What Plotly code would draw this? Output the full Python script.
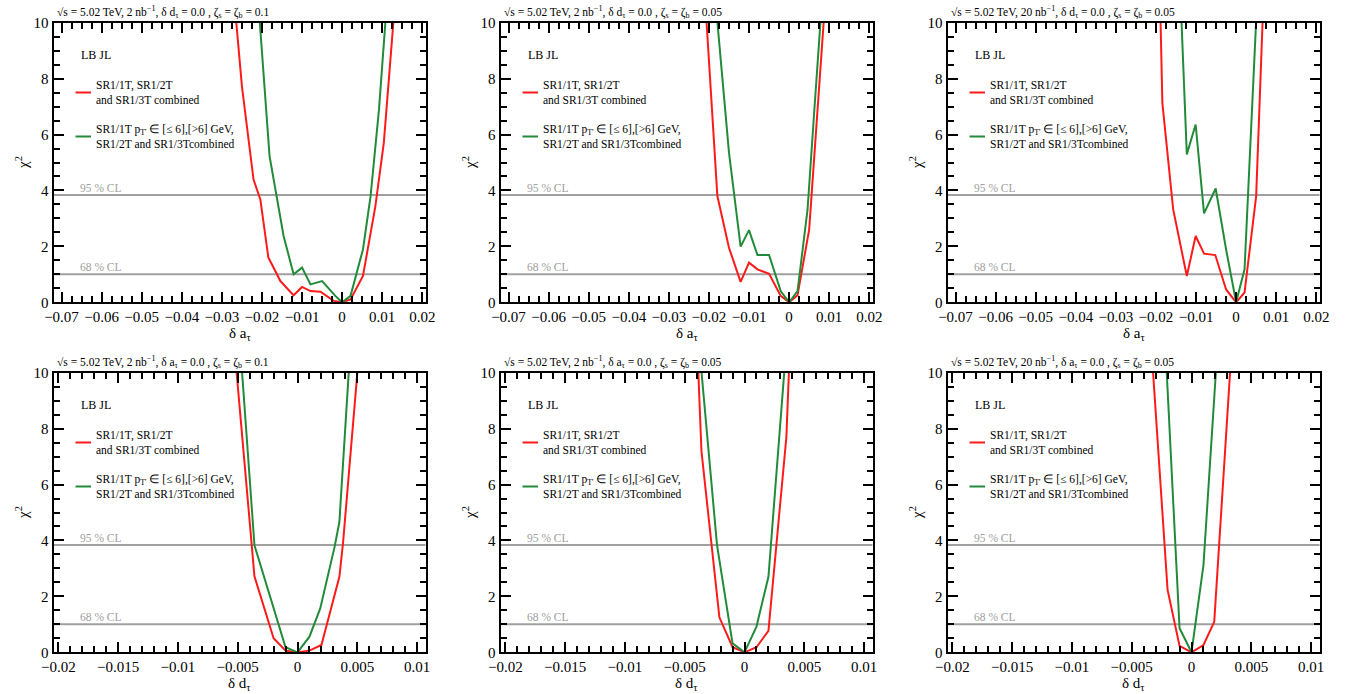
import plotly.graph_objects as go

W, H = 1348, 694

# ---------------- data ----------------
# Top row: chi^2 vs delta a_tau
A1_RED_X = [-0.0275, -0.025, -0.0221, -0.0204, -0.0184, -0.0154, -0.0121, -0.0100, -0.0079, -0.0054, -0.0021, 0.0, 0.0021, 0.0052, 0.0083, 0.0104, 0.0130]
A1_RED_Y = [11.8, 7.73, 4.39, 3.68, 1.60, 0.76, 0.25, 0.55, 0.40, 0.38, 0.05, 0.0, 0.10, 0.94, 3.44, 5.70, 10.4]
A1_GRN_X = [-0.0215, -0.0181, -0.0146, -0.0121, -0.0100, -0.0079, -0.0050, -0.0017, 0.0, 0.0021, 0.0052, 0.0071, 0.0092, 0.0115]
A1_GRN_Y = [11.9, 5.23, 2.37, 1.00, 1.24, 0.64, 0.76, 0.23, 0.0, 0.23, 1.89, 3.80, 6.90, 11.4]

A2_RED_X = [-0.0215, -0.0179, -0.0150, -0.0121, -0.0100, -0.0079, -0.0050, -0.0021, 0.0, 0.0021, 0.0050, 0.0071, 0.0090]
A2_RED_Y = [12.1, 3.80, 1.95, 0.73, 1.42, 1.18, 1.02, 0.23, 0.0, 0.25, 2.60, 6.90, 10.8]
A2_GRN_X = [-0.0185, -0.0150, -0.0121, -0.0100, -0.0079, -0.0050, -0.0021, 0.0, 0.0021, 0.0046, 0.0063, 0.0082]
A2_GRN_Y = [11.0, 5.35, 1.99, 2.58, 1.69, 1.69, 0.40, 0.0, 0.40, 3.32, 6.90, 10.8]

A3_RED_X = [-0.0190, -0.0184, -0.0157, -0.0123, -0.0101, -0.0080, -0.0052, -0.0025, 0.0, 0.0021, 0.0050, 0.0058, 0.0068]
A3_RED_Y = [11.0, 7.13, 3.32, 0.94, 2.37, 1.74, 1.69, 0.46, 0.0, 0.35, 3.80, 6.90, 10.8]
A3_GRN_X = [-0.0140, -0.0123, -0.0101, -0.0080, -0.0051, -0.0025, 0.0, 0.0021, 0.0053]
A3_GRN_Y = [11.4, 5.29, 6.36, 3.18, 4.07, 1.89, 0.0, 1.18, 11.0]

# Bottom row: chi^2 vs delta d_tau
D1_RED_X = [-0.0055, -0.0036, -0.0020, -0.0010, 0.0, 0.0010, 0.0020, 0.0035, 0.0038, 0.0052]
D1_RED_Y = [12.0, 2.72, 0.50, 0.06, 0.0, 0.06, 0.26, 2.70, 3.89, 11.0]
D1_GRN_X = [-0.0048, -0.0036, -0.0010, 0.0, 0.0010, 0.0019, 0.0031, 0.0035, 0.0045]
D1_GRN_Y = [11.0, 3.83, 0.18, 0.0, 0.56, 1.57, 3.77, 4.66, 11.5]

D2_RED_X = [-0.0040, -0.0036, -0.0021, -0.0010, 0.0, 0.0010, 0.0020, 0.0035, 0.0038]
D2_RED_Y = [11.5, 7.20, 1.25, 0.18, 0.0, 0.18, 0.77, 7.70, 11.0]
D2_GRN_X = [-0.0038, -0.0023, -0.0010, 0.0, 0.0010, 0.0020, 0.0035]
D2_GRN_Y = [11.0, 3.84, 0.32, 0.0, 0.92, 2.70, 11.0]

D3_RED_X = [-0.0034, -0.0020, -0.0010, 0.0, 0.0010, 0.0019, 0.0034]
D3_RED_Y = [11.2, 2.23, 0.23, 0.0, 0.26, 1.09, 11.2]
D3_GRN_X = [-0.0022, -0.0010, 0.0, 0.0010, 0.0022]
D3_GRN_Y = [11.1, 0.86, 0.0, 3.12, 11.1]

CL_LEVELS = [3.84, 1.0]
CL_LABELS = ["95 % CL", "68 % CL"]

TOP_TITLES = [
    "√s = 5.02 TeV, 2 nb<sup>−1</sup>, δ d<sub>τ</sub> = 0.0 , ζ<sub>s</sub> = ζ<sub>b</sub> = 0.1",
    "√s = 5.02 TeV, 2 nb<sup>−1</sup>, δ d<sub>τ</sub> = 0.0 , ζ<sub>s</sub> = ζ<sub>b</sub> = 0.05",
    "√s = 5.02 TeV, 20 nb<sup>−1</sup>, δ d<sub>τ</sub> = 0.0 , ζ<sub>s</sub> = ζ<sub>b</sub> = 0.05",
]
BOT_TITLES = [
    "√s = 5.02 TeV, 2 nb<sup>−1</sup>, δ a<sub>τ</sub> = 0.0 , ζ<sub>s</sub> = ζ<sub>b</sub> = 0.1",
    "√s = 5.02 TeV, 2 nb<sup>−1</sup>, δ a<sub>τ</sub> = 0.0 , ζ<sub>s</sub> = ζ<sub>b</sub> = 0.05",
    "√s = 5.02 TeV, 20 nb<sup>−1</sup>, δ a<sub>τ</sub> = 0.0 , ζ<sub>s</sub> = ζ<sub>b</sub> = 0.05",
]
LEG_RED = "SR1/1T, SR1/2T<br>and SR1/3T combined"
LEG_GRN = "SR1/1T p<sub>T'</sub> ∈ [≤ 6],[>6] GeV,<br>SR1/2T and SR1/3Tcombined"
LEG_HEAD = "LB JL"
X_TITLE_TOP = "δ a<sub>τ</sub>"
X_TITLE_BOT = "δ d<sub>τ</sub>"
Y_TITLE = "χ<sup>2</sup>"

RED = "#ff1a1a"
GREEN = "#228b3a"
GRAY = "#a0a0a0"
FONT = "Liberation Serif"

# ---------------- layout geometry (pixels) ----------------
LEFTS = [53.5, 500.5, 947.5]
PW = 372.0
TOP_ROW = (22.7, 302.3)
BOT_ROW = (372.7, 652.3)

panels = [
    (A1_RED_X, A1_RED_Y, A1_GRN_X, A1_GRN_Y, TOP_TITLES[0], "top"),
    (A2_RED_X, A2_RED_Y, A2_GRN_X, A2_GRN_Y, TOP_TITLES[1], "top"),
    (A3_RED_X, A3_RED_Y, A3_GRN_X, A3_GRN_Y, TOP_TITLES[2], "top"),
    (D1_RED_X, D1_RED_Y, D1_GRN_X, D1_GRN_Y, BOT_TITLES[0], "bot"),
    (D2_RED_X, D2_RED_Y, D2_GRN_X, D2_GRN_Y, BOT_TITLES[1], "bot"),
    (D3_RED_X, D3_RED_Y, D3_GRN_X, D3_GRN_Y, BOT_TITLES[2], "bot"),
]

fig = go.Figure()
layout = {}
annotations = []
shapes = []

for i, (rx, ry, gx, gy, title, row) in enumerate(panels):
    n = i + 1
    xa = "x" if n == 1 else f"x{n}"
    ya = "y" if n == 1 else f"y{n}"
    xkey = "xaxis" if n == 1 else f"xaxis{n}"
    ykey = "yaxis" if n == 1 else f"yaxis{n}"
    left = LEFTS[i % 3]
    top_px, bot_px = TOP_ROW if row == "top" else BOT_ROW
    ph = bot_px - top_px

    fig.add_trace(go.Scatter(x=rx, y=ry, mode="lines", line=dict(color=RED, width=2),
                             xaxis=xa, yaxis=ya, showlegend=False, hoverinfo="skip"))
    fig.add_trace(go.Scatter(x=gx, y=gy, mode="lines", line=dict(color=GREEN, width=2),
                             xaxis=xa, yaxis=ya, showlegend=False, hoverinfo="skip"))

    if row == "top":
        xr, dt, mdt, xt = [-0.072, 0.0208], 0.01, 0.0025, X_TITLE_TOP
    else:
        xr, dt, mdt, xt = [-0.0204, 0.0107], 0.005, 0.001, X_TITLE_BOT

    common = dict(showline=True, linewidth=2, linecolor="black", mirror="allticks",
                  ticks="inside", ticklen=10, tickwidth=1.5, tickcolor="black",
                  showgrid=False, zeroline=False, fixedrange=True, automargin=False,
                  tickfont=dict(family=FONT, size=15, color="black"))
    layout[xkey] = dict(common, domain=[left / W, (left + PW) / W], range=xr,
                        tick0=0, dtick=dt, anchor=ya,
                        minor=dict(dtick=mdt, tick0=0, ticks="inside", ticklen=6,
                                   tickwidth=1.5, tickcolor="black", showgrid=False))
    layout[ykey] = dict(common, domain=[1 - bot_px / H, 1 - top_px / H], range=[0, 10],
                        tick0=0, dtick=2, anchor=xa,
                        minor=dict(dtick=0.5, tick0=0, ticks="inside", ticklen=6,
                                   tickwidth=1.5, tickcolor="black", showgrid=False))

    xd = f"{xa} domain"
    yd = f"{ya} domain"

    # CL lines and labels
    for lvl, lab in zip(CL_LEVELS, CL_LABELS):
        shapes.append(dict(type="line", xref=xd, yref=ya, x0=0, x1=1, y0=lvl, y1=lvl,
                           line=dict(color=GRAY, width=2), layer="below"))
        annotations.append(dict(xref=xd, yref=ya, x=0, y=lvl, xanchor="left", yanchor="bottom",
                                xshift=24, yshift=-1, text=lab, showarrow=False,
                                font=dict(family=FONT, size=11.5, color=GRAY)))

    # panel header
    annotations.append(dict(xref=xd, yref=yd, x=0, y=1, xanchor="left", yanchor="bottom",
                            xshift=1, yshift=1, text=title, showarrow=False,
                            font=dict(family=FONT, size=11.5, color="black")))

    # legend block
    annotations.append(dict(xref=xd, yref=yd, x=0, y=1, xanchor="left", yanchor="middle",
                            xshift=25, yshift=-(55 - 22.7), text=LEG_HEAD, showarrow=False,
                            font=dict(family=FONT, size=12, color="black")))
    for ypx, col, txt in [(92.5, RED, LEG_RED), (136.5, GREEN, LEG_GRN)]:
        frac = 1 - (ypx - 22.7) / ph
        shapes.append(dict(type="line", xref=xd, yref=yd, x0=22 / PW, x1=37.5 / PW,
                           y0=frac, y1=frac, line=dict(color=col, width=2)))
        annotations.append(dict(xref=xd, yref=yd, x=40 / PW, y=frac, xanchor="left",
                                yanchor="middle", align="left", text=txt, showarrow=False,
                                font=dict(family=FONT, size=11.5, color="black")))

    # axis titles
    annotations.append(dict(xref=xd, yref=yd, x=0.5, y=0, xanchor="center", yanchor="top",
                            yshift=-21, text=xt, showarrow=False,
                            font=dict(family=FONT, size=15, color="black")))
    annotations.append(dict(xref=xd, yref=yd, x=0, y=0.5, xanchor="center", yanchor="middle",
                            xshift=-32, text=Y_TITLE, textangle=-90, showarrow=False,
                            font=dict(family=FONT, size=15, color="black")))

fig.update_layout(**layout)
fig.update_layout(width=W, height=H,
                  margin=dict(l=0, r=0, t=0, b=0, pad=0, autoexpand=False),
                  paper_bgcolor="white", plot_bgcolor="white",
                  annotations=annotations, shapes=shapes, showlegend=False)

fig.write_html("out.html", config={"displayModeBar": False})
